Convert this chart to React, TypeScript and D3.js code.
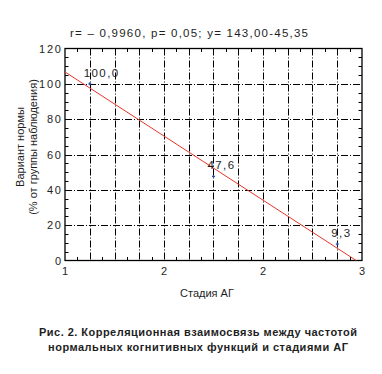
import React from 'react';
import * as d3 from 'd3';

// stage of hypertension vs share of normal cognitive function
const stages = [1, 2, 3];
const normShare = [100.0, 47.6, 9.3];
const pointLabels = ['100,0', '47,6', '9,3'];
const xTickValues = [0.8, 1.6, 2.4, 3.2];
const yTickValues = [0, 20, 40, 60, 80, 100, 120];
const fit = { intercept: 143.0, slope: -45.35 };

const titleText = 'r= \u2013 0,9960, p= 0,05;  y= 143,00-45,35';
const xTitle = 'Стадия АГ';
const yTitle = ['Вариант нормы', '(% от группы наблюдения)'];
const caption = [
  'Рис. 2. Корреляционная взаимосвязь между частотой',
  'нормальных когнитивных функций и стадиями АГ',
];

const W = 382;
const H = 374;
const font = '"Liberation Sans", Arial, Helvetica, sans-serif';
const ink = '#1e1e1e';

export default function App() {
  const x = d3.scaleLinear().domain([0.8, 3.2]).range([65, 362]);
  const y = d3.scaleLinear().domain([0, 120]).range([260.5, 48.5]);
  const [x0, x1] = x.range();
  const [y0, y1] = y.range();
  const px = (v: number) => Math.round(x(v)) + 0.5;
  const py = (v: number) => Math.round(y(v)) + 0.5;

  const gridX = d3.range(0.8, 3.2001, 0.2).slice(1, -1);
  const gridY = yTickValues.slice(1, -1);
  const minorX = d3.range(0.9, 3.2, 0.2);
  const minorY = d3.range(5, 120, 5).filter((v) => v % 20 !== 0);

  // regression line, clipped where it leaves the plot at y = 0
  const xEnd = Math.min(3.2, -fit.intercept / fit.slope);
  const fitLine = d3
    .line<number>()
    .x((d) => x(d))
    .y((d) => y(fit.intercept + fit.slope * d))([0.8, xEnd]);

  const dash = '7,2,1,2';
  const fmtX = d3.format('.0f');

  return (
    <svg width={W} height={H} style={{ position: 'absolute', left: 0, top: 0, background: '#fff' }} fontFamily={font}>
      <text x={189} y={37} fontSize={11.5} fill={ink} textAnchor="middle" textLength={238} lengthAdjust="spacing">
        {titleText}
      </text>

      {/* grid */}
      {gridX.map((v) => (
        <line key={'gx' + v} x1={px(v)} x2={px(v)} y1={y1} y2={y0} stroke="#000" strokeWidth={1} strokeDasharray={dash} />
      ))}
      {gridY.map((v) => (
        <line key={'gy' + v} x1={x0} x2={x1} y1={py(v)} y2={py(v)} stroke="#000" strokeWidth={1} strokeDasharray={dash} />
      ))}

      {/* minor ticks */}
      {minorX.map((v) => (
        <g key={'mx' + v}>
          <line x1={px(v)} x2={px(v)} y1={y0} y2={y0 - 3.5} stroke="#000" />
          <line x1={px(v)} x2={px(v)} y1={y1} y2={y1 + 3.5} stroke="#000" />
        </g>
      ))}
      {minorY.map((v) => (
        <g key={'my' + v}>
          <line x1={x0} x2={x0 + 3.5} y1={py(v)} y2={py(v)} stroke="#000" />
          <line x1={x1} x2={x1 - 3.5} y1={py(v)} y2={py(v)} stroke="#000" />
        </g>
      ))}

      <rect x={x0} y={y1} width={x1 - x0} height={y0 - y1} fill="none" stroke="#000" strokeWidth={1.3} />

      {/* axis labels */}
      {xTickValues.map((v) => (
        <text key={'tx' + v} x={x(v)} y={275} fontSize={11} fill={ink} textAnchor="middle">
          {fmtX(v)}
        </text>
      ))}
      {yTickValues.map((v) => (
        <text key={'ty' + v} x={61} y={y(v) + 4} fontSize={11} fill={ink} textAnchor="end" letterSpacing={1.8} dx={1.8}>
          {v}
        </text>
      ))}

      <path d={fitLine ?? ''} fill="none" stroke="#e8352b" strokeWidth={1} />

      {stages.map((s, i) => (
        <g key={'p' + s}>
          <line x1={x(s) - 1.5} x2={x(s) + 1.5} y1={y(normShare[i])} y2={y(normShare[i])} stroke="#2a4fb0" strokeWidth={1.2} />
          <line x1={x(s)} x2={x(s)} y1={y(normShare[i]) - 1.5} y2={y(normShare[i]) + 1.5} stroke="#2a4fb0" strokeWidth={1.2} />
          <text x={x(s) - 6} y={y(normShare[i]) - 7} fontSize={11.5} fill={ink} letterSpacing={1.4}>
            {pointLabels[i]}
          </text>
        </g>
      ))}

      <text x={207} y={297} fontSize={11} fill={ink} textAnchor="middle">
        {xTitle}
      </text>
      {yTitle.map((t, i) => (
        <text key={t} transform={`translate(${24 + i * 12.5},147) rotate(-90)`} fontSize={11} fill={ink} textAnchor="middle">
          {t}
        </text>
      ))}

      {caption.map((c, i) => (
        <text key={c} x={198} y={336 + i * 15} fontSize={11} fontWeight="bold" fill={ink} textAnchor="middle" textLength={i === 0 ? 318 : 300} lengthAdjust="spacing">
          {c}
        </text>
      ))}
    </svg>
  );
}
